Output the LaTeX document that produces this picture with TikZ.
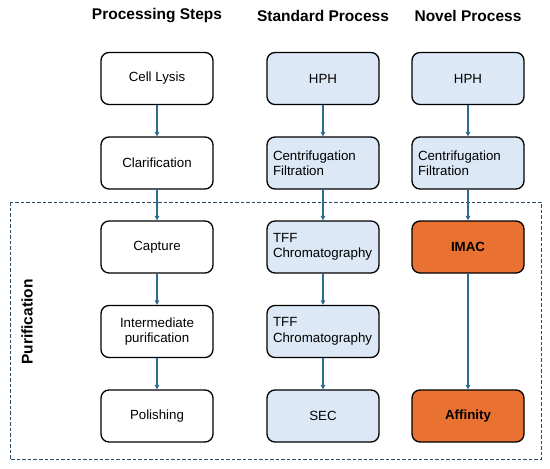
\documentclass[tikz,border=0pt]{standalone}
\usepackage{fontspec}
\setmainfont{Liberation Sans}
\usetikzlibrary{arrows.meta}
\definecolor{boxblue}{HTML}{DCE8F5}
\definecolor{boxorange}{HTML}{E97132}
\definecolor{arrowblue}{HTML}{2B6C94}
\definecolor{dashcol}{HTML}{2F4A63}
\begin{document}
\begin{tikzpicture}[x=1pt,y=-1pt,
  base/.style={draw=black,line width=1.3pt,rounded corners=8pt,minimum width=112pt,minimum height=52pt,inner sep=0pt,font=\fontsize{13.3}{15.5}\selectfont},
  plain/.style={base,fill=white,align=center},
  blue/.style={base,fill=boxblue,align=center},
  bluel/.style={base,fill=boxblue,align=left,text width=100pt},
  orange/.style={base,fill=boxorange,font=\fontsize{13.3}{15.5}\selectfont\bfseries},
  head/.style={font=\fontsize{15.5}{18}\selectfont\bfseries},
  arr/.style={draw=arrowblue,line width=1.2pt,-{Triangle[length=4.5pt,width=4.5pt]}}]
\useasboundingbox (0,0) rectangle (550,469);
\fill[white] (0,0) rectangle (550,469);
% purification box
\draw[dashcol,line width=1pt,dash pattern=on 3.5pt off 2pt] (10,202) rectangle (541,459);
\node[head,rotate=90] (pur) at (27,322) {Purification};
% headers
\node[head] (h1) at (157,16) {Processing Steps};
\node[head] (h2) at (323,16) {Standard Process};
\node[head] (h3) at (468,16) {Novel Process};
% column 1
\node[plain] (a1) at (157,78.5) {Cell Lysis};
\node[plain] (a2) at (157,163) {Clarification};
\node[plain] (a3) at (157,247) {Capture};
\node[plain] (a4) at (157,331.5) {Intermediate\\purification};
\node[plain] (a5) at (157,416) {Polishing};
% column 2
\node[blue] (b1) at (323,78.5) {HPH};
\node[bluel] (b2) at (323,163) {Centrifugation\\Filtration};
\node[bluel] (b3) at (323,247) {TFF\\Chromatography};
\node[bluel] (b4) at (323,331.5) {TFF\\Chromatography};
\node[blue] (b5) at (323,416) {SEC};
% column 3
\node[blue] (c1) at (468,78.5) {HPH};
\node[bluel] (c2) at (468,163) {Centrifugation\\Filtration};
\node[orange] (c3) at (468,247) {IMAC};
\node[orange] (c5) at (468,416) {Affinity};
% arrows
\draw[arr] (a1) -- (a2);
\draw[arr] (a2) -- (a3);
\draw[arr] (a3) -- (a4);
\draw[arr] (a4) -- (a5);
\draw[arr] (b1) -- (b2);
\draw[arr] (b2) -- (b3);
\draw[arr] (b3) -- (b4);
\draw[arr] (b4) -- (b5);
\draw[arr] (c1) -- (c2);
\draw[arr] (c2) -- (c3);
\draw[arr] (c3) -- (c5);
\end{tikzpicture}
\end{document}
